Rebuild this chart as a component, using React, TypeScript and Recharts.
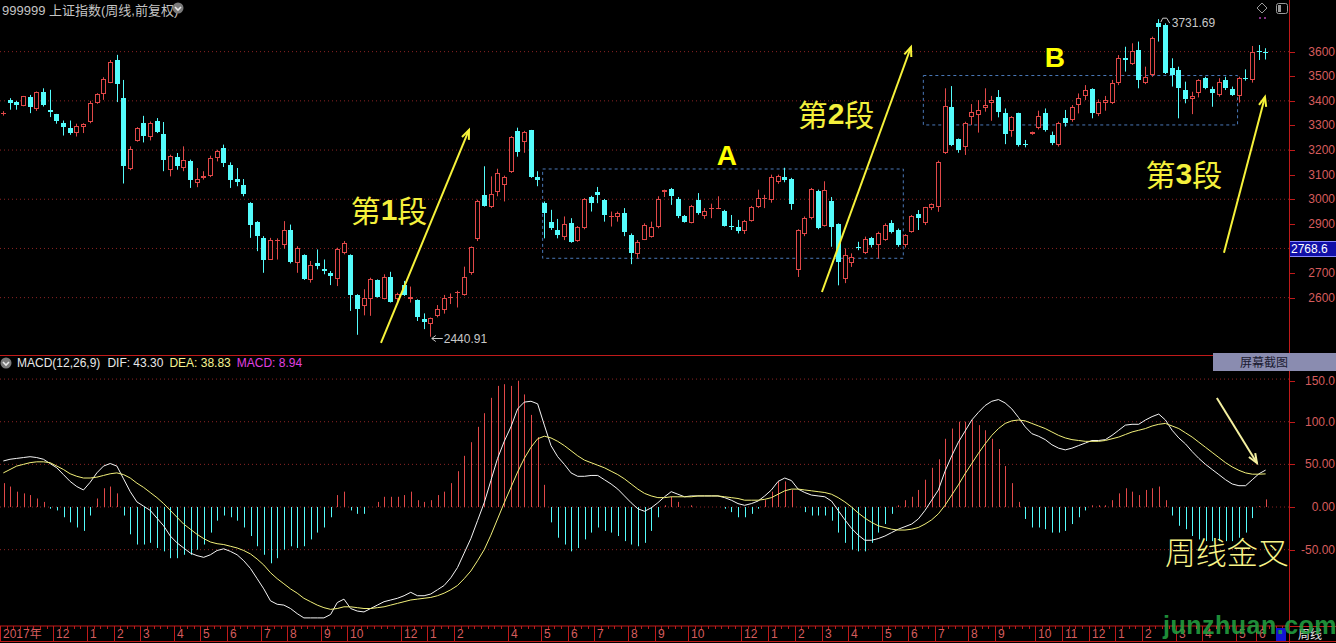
import React from "react";
import {
  Bar,
  CartesianGrid,
  ComposedChart,
  Line,
  ReferenceArea,
  ReferenceDot,
  ReferenceLine,
  XAxis,
  YAxis,
} from "recharts";

// weekly candles, 上证指数
const opens = [
  3345, 3404, 3396, 3381, 3415, 3366, 3438, 3361, 3345, 3309,
  3289, 3269, 3293, 3314, 3391, 3427, 3474, 3566, 3411, 3124,
  3235, 3309, 3255, 3320, 3265, 3118, 3172, 3127, 3157, 3066,
  3086, 3093, 3168, 3208, 3141, 3082, 3059, 2985, 2907, 2843,
  2755, 2830, 2816, 2874, 2739, 2772, 2672, 2739, 2718, 2701,
  2674, 2782, 2772, 2609, 2566, 2596, 2672, 2596, 2685, 2593,
  2650, 2596, 2589, 2512, 2493, 2525, 2550, 2598, 2618, 2611,
  2699, 2837, 3018, 2968, 3028, 3058, 3110, 3278, 3233, 3282,
  3091, 2984, 2906, 2875, 2845, 2905, 2831, 2882, 3009, 3028,
  2998, 2930, 2927, 2943, 2855, 2777, 2834, 2848, 2886, 3028,
  3042, 3003, 2932, 2905, 2995, 2932, 2960, 2962, 2954, 2891,
  2889, 2872, 2913, 2968, 3001, 2995, 3069, 3091, 3084, 2714,
  2859, 2923, 3032, 2891, 2991, 2900, 2677, 2739, 2807, 2782,
  2841, 2814, 2834, 2902, 2875, 2814, 2868, 2942, 2902, 2963,
  2969, 3189, 3376, 3243, 3214, 3333, 3342, 3372, 3390, 3414,
  3349, 3279, 3349, 3226, 3265, 3288, 3349, 3261, 3220, 3329,
  3322, 3383, 3420, 3447, 3346, 3393, 3393, 3474, 3573, 3550,
  3607, 3474, 3505, 3718, 3708, 3532, 3525, 3444, 3406, 3430,
  3492, 3447, 3424, 3485, 3447, 3420, 3494, 3485, 3602, 3598,
];
const highs = [
  3358, 3411, 3400, 3420, 3424, 3438, 3451, 3445, 3347, 3320,
  3320, 3307, 3309, 3400, 3431, 3496, 3566, 3587, 3485, 3215,
  3293, 3339, 3316, 3330, 3314, 3181, 3188, 3215, 3161, 3127,
  3114, 3177, 3201, 3222, 3150, 3127, 3082, 2988, 2911, 2850,
  2843, 2841, 2911, 2897, 2809, 2776, 2749, 2796, 2755, 2708,
  2803, 2830, 2776, 2614, 2634, 2681, 2674, 2695, 2705, 2620,
  2668, 2645, 2593, 2536, 2519, 2570, 2611, 2617, 2628, 2726,
  2808, 2998, 3134, 3093, 3124, 3096, 3257, 3291, 3278, 3282,
  3114, 2991, 2957, 2920, 2930, 2923, 2891, 3005, 3014, 3050,
  3001, 2950, 2950, 2964, 2861, 2834, 2902, 2909, 3012, 3039,
  3046, 3009, 2936, 2977, 3025, 2964, 2982, 3012, 2957, 2936,
  2916, 2916, 2973, 3039, 3018, 3100, 3100, 3128, 3087, 2878,
  2930, 3046, 3039, 3073, 3009, 2902, 2800, 2780, 2827, 2848,
  2847, 2868, 2902, 2915, 2881, 2858, 2936, 2956, 2969, 2983,
  3157, 3451, 3460, 3247, 3315, 3387, 3403, 3451, 3420, 3444,
  3369, 3338, 3352, 3241, 3275, 3360, 3369, 3275, 3315, 3363,
  3383, 3430, 3464, 3451, 3406, 3420, 3485, 3586, 3620, 3634,
  3641, 3539, 3661, 3732, 3715, 3573, 3539, 3478, 3437, 3488,
  3498, 3458, 3492, 3498, 3458, 3498, 3528, 3623, 3627, 3614,
];
const lows = [
  3340, 3364, 3364, 3378, 3350, 3359, 3377, 3334, 3307, 3259,
  3262, 3255, 3269, 3309, 3388, 3404, 3472, 3395, 3064, 3118,
  3234, 3231, 3239, 3269, 3114, 3093, 3120, 3114, 3046, 3049,
  3080, 3090, 3154, 3131, 3046, 3053, 3012, 2843, 2789, 2701,
  2753, 2755, 2799, 2739, 2701, 2672, 2661, 2715, 2695, 2651,
  2647, 2776, 2546, 2449, 2528, 2526, 2600, 2593, 2580, 2580,
  2607, 2580, 2505, 2472, 2441, 2520, 2535, 2574, 2560, 2608,
  2693, 2830, 2970, 2964, 3012, 2991, 3107, 3173, 3189, 3087,
  3053, 2841, 2875, 2841, 2834, 2823, 2827, 2878, 2950, 2984,
  2909, 2889, 2909, 2850, 2736, 2759, 2834, 2844, 2882, 3009,
  2977, 2923, 2905, 2902, 2937, 2920, 2923, 2960, 2889, 2875,
  2861, 2859, 2909, 2964, 2964, 2986, 3063, 3069, 2957, 2684,
  2850, 2918, 2878, 2889, 2807, 2650, 2659, 2725, 2793, 2777,
  2804, 2759, 2831, 2861, 2807, 2804, 2864, 2875, 2895, 2956,
  2949, 3184, 3216, 3189, 3180, 3302, 3271, 3356, 3319, 3333,
  3224, 3254, 3214, 3211, 3262, 3284, 3275, 3220, 3214, 3295,
  3315, 3349, 3403, 3329, 3338, 3360, 3387, 3464, 3519, 3546,
  3451, 3468, 3498, 3641, 3509, 3458, 3329, 3390, 3346, 3414,
  3447, 3376, 3417, 3444, 3420, 3393, 3482, 3474, 3566, 3568,
];
const closes = [
  3352, 3393, 3384, 3418, 3373, 3434, 3384, 3355, 3320, 3293,
  3269, 3296, 3307, 3393, 3427, 3488, 3558, 3468, 3134, 3204,
  3289, 3259, 3309, 3272, 3158, 3174, 3136, 3161, 3077, 3082,
  3093, 3168, 3195, 3147, 3080, 3069, 3023, 2897, 2850, 2755,
  2836, 2836, 2877, 2745, 2803, 2674, 2731, 2728, 2708, 2688,
  2799, 2823, 2609, 2555, 2600, 2677, 2604, 2685, 2582, 2614,
  2609, 2603, 2523, 2499, 2516, 2554, 2598, 2604, 2624, 2683,
  2805, 2991, 2973, 3022, 3107, 3091, 3253, 3192, 3275, 3089,
  3080, 2943, 2882, 2855, 2900, 2827, 2886, 3002, 2984, 3018,
  2936, 2933, 2943, 2868, 2780, 2827, 2896, 2889, 3001, 3036,
  3012, 2932, 2909, 2973, 2943, 2954, 2964, 2964, 2891, 2886,
  2872, 2913, 2968, 3005, 3005, 3091, 3096, 3080, 2982, 2875,
  2923, 3042, 2882, 3036, 2889, 2745, 2773, 2766, 2805, 2837,
  2814, 2861, 2895, 2868, 2814, 2854, 2932, 2922, 2967, 2979,
  3153, 3380, 3220, 3200, 3308, 3353, 3363, 3383, 3403, 3356,
  3265, 3336, 3220, 3224, 3272, 3338, 3281, 3227, 3311, 3311,
  3376, 3410, 3444, 3349, 3397, 3403, 3471, 3573, 3566, 3604,
  3485, 3498, 3654, 3699, 3512, 3505, 3451, 3406, 3420, 3485,
  3451, 3430, 3478, 3451, 3424, 3492, 3491, 3600, 3598, 3594,
];

// MACD(12,26,9): DIF (white) and DEA (yellow)
const difs = [
  54, 56, 57, 58, 59, 58, 56, 51, 46, 38,
  30, 24, 20, 29, 40, 48, 51, 48, 33, 18,
  6, 1, -4, -13, -22, -34, -42, -48, -54, -57,
  -59, -56, -51, -49, -52, -56, -63, -72, -84, -96,
  -110, -114, -115, -119, -125, -130, -130, -130, -130, -126,
  -112, -108, -119, -122, -123, -119, -115, -111, -109, -107,
  -104, -100, -104, -104, -102, -97, -92, -83, -71, -54,
  -37, -16, 5, 31, 57, 77, 94, 115, 123, 124,
  121, 96, 72, 59, 50, 40, 36, 36, 37, 37,
  32, 27, 21, 13, 5, -2, -5, -1, 5, 12,
  18, 15, 12, 13, 13, 13, 13, 13, 11, 8,
  4, 2, 4, 7, 13, 20, 30, 34, 31, 21,
  17, 14, 13, 12, 7, -4, -15, -25, -33, -39,
  -39, -37, -34, -30, -26, -23, -20, -14, -4, 8,
  20, 42, 60, 76, 89, 102, 111, 119, 124, 126,
  122, 115, 105, 94, 86, 83, 79, 73, 69, 67,
  69, 72, 75, 78, 78, 79, 84, 90, 96, 97,
  97, 102, 106, 109, 102, 90, 81, 74, 65, 57,
  50, 44, 38, 32, 27, 25, 25, 32, 39, 43.3,
];
const deas = [
  40, 44, 48, 50, 52, 53, 53, 52, 48, 44,
  39, 36, 34, 34, 35, 37, 39, 40, 38, 34,
  28, 23, 17, 11, 4, -4, -12, -20, -26, -32,
  -37, -41, -43, -44, -46, -48, -51, -55, -61, -68,
  -77, -84, -90, -96, -101, -107, -111, -115, -118, -120,
  -119, -117, -117, -118, -119, -119, -118, -117, -115, -113,
  -111, -109, -108, -107, -106, -104, -101, -97, -92, -84,
  -75, -63, -50, -33, -14, 5, 23, 41, 57, 70,
  80, 83, 81, 77, 72, 66, 60, 55, 52, 49,
  46, 42, 38, 33, 27, 21, 16, 13, 11, 11,
  12, 12, 12, 12, 13, 13, 13, 13, 12, 11,
  10, 8, 8, 8, 9, 11, 15, 19, 21, 21,
  20, 19, 18, 17, 15, 11, 6, 0, -7, -13,
  -18, -22, -24, -26, -27, -27, -26, -24, -20, -15,
  -8, 2, 14, 26, 39, 51, 63, 74, 84, 92,
  98, 101, 102, 101, 98, 95, 92, 88, 84, 81,
  79, 78, 77, 77, 77, 78, 80, 82, 85, 88,
  90, 92, 95, 97, 98, 95, 92, 87, 82, 76,
  70, 64, 58, 52, 47, 43, 40, 38.5, 38.5, 38.83,
];

const timeTicks: [number, string][] = [
  [0, "2017年"], [8, "12"], [13, "1"], [17, "2"], [21, "3"], [26, "4"], [30, "5"],
  [34, "6"], [39, "7"], [43, "8"], [48, "9"], [52, "10"], [60, "12"], [64, "1"],
  [68, "2"], [76, "4"], [81, "5"], [85, "6"], [89, "7"], [94, "8"], [98, "9"],
  [103, "10"], [111, "12"], [115, "1"], [119, "2"], [123, "3"], [127, "4"],
  [132, "5"], [136, "6"], [140, "7"], [145, "8"], [149, "9"], [155, "10"],
  [159, "11"], [163, "12"], [167, "1"], [171, "2"], [176, "3"], [180, "4"],
  [185, "5"], [188, "6"],
];
const priceTicks = [2600, 2700, 2800, 2900, 3000, 3100, 3200, 3300, 3400, 3500, 3600];
const priceGrid = [2600, 2800, 3000, 3200, 3400, 3600];
const macdTicks = [-50, 0, 50, 100, 150];
const macdTickLabels = ["-50.00", "0.00", "50.00", "100.0", "150.0"];

// annotations, in week index / value units
const boxes = [
  { x1: 80.75, x2: 134.75, y1: 2760, y2: 3123 },
  { x1: 137.75, x2: 184.8, y1: 3302, y2: 3503 },
];
const arrows = [
  { from: [56.54, 2416], to: [69.72, 3282] },
  { from: [122.57, 2623], to: [135.9, 3619] },
  { from: [182.76, 2782], to: [188.9, 3416] },
];
const stageLabels = [
  { i: 57.74, v: 2961, num: "1" },
  { i: 124.67, v: 3351, num: "2" },
  { i: 176.77, v: 3108, num: "3" },
];
const letterLabels = [
  { i: 108.35, v: 3177, text: "A" },
  { i: 157.46, v: 3577, text: "B" },
];

const SLOTS = 193;
const RED = "#e04848";
const CYAN = "#54fcfc";
const GRID = "#8c2424";
const AXIS = "#c01a1a";
const AXIS_TEXT = "#d65c5c";
const YELLOW = "#f4f03c";

const rows = Array.from({ length: SLOTS }, (_, i) =>
  i < opens.length
    ? {
        i,
        range: [lows[i], highs[i]],
        open: opens[i],
        high: highs[i],
        low: lows[i],
        close: closes[i],
        dif: difs[i],
        dea: deas[i],
        hist: 2 * (difs[i] - deas[i]),
      }
    : { i }
);

const tickLabel = new Map(timeTicks);

function Candle(props: any) {
  const { x, y, width, height, payload } = props;
  if (!payload || payload.open == null) return null;
  const { open, close, high, low } = payload;
  const top0 = Math.min(y, y + height);
  const k = Math.abs(height) / (high - low || 1);
  const yOf = (v: number) => top0 + (high - v) * k;
  const left = Math.round(x + width / 2 - 2.5);
  const cx = left + 2.5;
  const up = close >= open;
  const color = up ? RED : CYAN;
  const bTop = Math.round(yOf(Math.max(open, close)));
  const bBot = Math.round(yOf(Math.min(open, close)));
  const flat = bBot - bTop < 2;
  return (
    <g>
      <line x1={cx} x2={cx} y1={yOf(high)} y2={yOf(low)} stroke={color} />
      {flat ? (
        <line x1={left} x2={left + 5} y1={bTop + 0.5} y2={bTop + 0.5} stroke={color} />
      ) : up ? (
        <rect x={left + 0.5} y={bTop + 0.5} width={4} height={bBot - bTop - 1} fill="#000" stroke={color} />
      ) : (
        <rect x={left} y={bTop} width={5} height={bBot - bTop} fill={color} />
      )}
    </g>
  );
}

function HistBar(props: any) {
  const { x, y, width, height, payload } = props;
  if (!payload || payload.hist == null) return null;
  const cx = Math.round(x + width / 2) + 0.5;
  return <line x1={cx} x2={cx} y1={y} y2={y + height} stroke={payload.hist >= 0 ? RED : CYAN} />;
}

function PriceTick(p: any) {
  const yy = Math.round(p.y) + 0.5;
  return (
    <g>
      <line x1={1289} x2={1295} y1={yy} y2={yy} stroke={AXIS} />
      <text x={1335} y={p.y} textAnchor="end" dominantBaseline="central" fill={AXIS_TEXT} fontSize={12}>
        {p.payload.value}
      </text>
    </g>
  );
}

function MacdTick(p: any) {
  const yy = Math.round(p.y) + 0.5;
  const label = macdTickLabels[macdTicks.indexOf(p.payload.value)];
  return (
    <g>
      <line x1={1289} x2={1295} y1={yy} y2={yy} stroke={AXIS} />
      <text x={1335} y={p.y} textAnchor="end" dominantBaseline="central" fill={AXIS_TEXT} fontSize={12}>
        {label}
      </text>
    </g>
  );
}

function TimeTick(p: any) {
  const i = Number(p.payload.value);
  const left = Math.round(p.x - 3.3) + 0.5;
  const label = tickLabel.get(i);
  if (!label) {
    return <line x1={left} x2={left} y1={p.y} y2={p.y + 3} stroke={AXIS} />;
  }
  return (
    <g>
      <line x1={left} x2={left} y1={p.y} y2={p.y + 15} stroke={AXIS} />
      <text x={left + 2.5} y={p.y + 8} dominantBaseline="central" fill={AXIS_TEXT} fontSize={12}>
        {label}
      </text>
    </g>
  );
}

const arrowShape = (color: string, w: number) => (p: any) => {
  const { x1, y1, x2, y2 } = p;
  const a = Math.atan2(y2 - y1, x2 - x1);
  const L = 10;
  const s = 0.38;
  const ax = x2 - L * Math.cos(a - s);
  const ay = y2 - L * Math.sin(a - s);
  const bx = x2 - L * Math.cos(a + s);
  const by = y2 - L * Math.sin(a + s);
  return (
    <g>
      <line x1={x1} y1={y1} x2={x2} y2={y2} stroke={color} strokeWidth={w} />
      <polyline points={`${ax},${ay} ${x2},${y2} ${bx},${by}`} fill="none" stroke={color} strokeWidth={w} />
    </g>
  );
};

const center = (p: any) => ({ cx: p.viewBox.x + p.viewBox.width / 2, cy: p.viewBox.y + p.viewBox.height / 2 });

const stageContent = (num: string) => (p: any) => {
  const { cx, cy } = center(p);
  return (
    <text x={cx} y={cy} textAnchor="middle" dominantBaseline="central" fill={YELLOW} fontSize={30} fontFamily="'Noto Sans CJK SC', sans-serif">
      第<tspan fontFamily="'Liberation Sans', Arial" fontWeight="bold">{num}</tspan>段
    </text>
  );
};

const letterContent = (text: string) => (p: any) => {
  const { cx, cy } = center(p);
  return (
    <text x={cx} y={cy} textAnchor="middle" dominantBaseline="central" fill="#ffff00" fontSize={28} fontWeight="bold" fontFamily="'Liberation Sans', Arial">
      {text}
    </text>
  );
};

const lowContent = (p: any) => {
  const { cx, cy } = center(p);
  const yy = Math.round(cy + 1) + 0.5;
  return (
    <g stroke="#c8c8c8" fill="none">
      <line x1={cx + 1} x2={cx + 12} y1={yy} y2={yy} />
      <polyline points={`${cx + 5},${yy - 3} ${cx + 1},${yy} ${cx + 5},${yy + 3}`} />
      <text x={cx + 13} y={yy} dominantBaseline="central" fill="#c8c8c8" stroke="none" fontSize={12}>
        2440.91
      </text>
    </g>
  );
};

const highContent = (p: any) => {
  const { cx, cy } = center(p);
  return (
    <g stroke="#c8c8c8" fill="none">
      <path d={`M${cx + 2},${cy + 3} L${cx + 4},${cy - 1} L${cx + 8},${cy - 1} L${cx + 11},${cy + 4}`} />
      <text x={cx + 13} y={cy + 4} dominantBaseline="central" fill="#c8c8c8" stroke="none" fontSize={12}>
        3731.69
      </text>
    </g>
  );
};

const goldenContent = (p: any) => {
  const { cx, cy } = center(p);
  return (
    <text x={cx} y={cy} textAnchor="middle" dominantBaseline="central" fill="#f8f488" fontSize={31} fontWeight={300} fontFamily="'Noto Sans CJK SC', sans-serif">
      周线金叉
    </text>
  );
};

function Chevron({ x, y }: { x: number; y: number }) {
  return (
    <svg style={{ position: "absolute", left: x, top: y }} width={12} height={12}>
      <circle cx={6} cy={6} r={5.5} fill="#7a7a7a" />
      <polyline points="3,5 6,8 9,5" fill="none" stroke="#e8e8e8" strokeWidth={1.6} />
    </svg>
  );
}

const POS = "pos";

export default function App() {
  return (
    <div
      style={{
        position: "fixed",
        left: 0,
        top: 0,
        width: 1336,
        height: 643,
        background: "#000",
        overflow: "hidden",
        fontFamily: "'Liberation Sans', Arial, 'Noto Sans CJK SC', sans-serif",
      }}
    >
      {/* price panel */}
      <div style={{ position: "absolute", left: 0, top: 0 }}>
        <ComposedChart width={1336} height={352} data={rows} margin={{ top: 0, right: 0, bottom: 0, left: 0 }}>
          <CartesianGrid horizontalValues={priceGrid} vertical={false} stroke={GRID} strokeDasharray="1 3" />
          <XAxis dataKey="i" type="category" hide />
          <XAxis xAxisId={POS} dataKey="i" type="number" domain={[-0.5, SLOTS - 0.5]} allowDataOverflow hide />
          <YAxis
            orientation="right"
            width={47}
            type="number"
            domain={[2379, 3810]}
            allowDataOverflow
            ticks={priceTicks}
            tick={PriceTick}
            axisLine={false}
            tickLine={false}
          />
          {boxes.map((b, k) => (
            <ReferenceArea
              key={k}
              xAxisId={POS}
              x1={b.x1}
              x2={b.x2}
              y1={b.y1}
              y2={b.y2}
              fill="none"
              fillOpacity={0}
              stroke="#4a78b8"
              strokeDasharray="3 3"
              ifOverflow="visible"
            />
          ))}
          <Bar dataKey="range" barSize={5} shape={Candle} isAnimationActive={false} />
          {arrows.map((a, k) => (
            <ReferenceLine
              key={k}
              xAxisId={POS}
              segment={[
                { x: a.from[0], y: a.from[1] },
                { x: a.to[0], y: a.to[1] },
              ]}
              ifOverflow="visible"
              shape={arrowShape("#f6f23a", 2)}
            />
          ))}
          {stageLabels.map((s, k) => (
            <ReferenceDot key={k} xAxisId={POS} x={s.i} y={s.v} r={1} fill="none" stroke="none" ifOverflow="visible" label={{ content: stageContent(s.num) }} />
          ))}
          {letterLabels.map((s, k) => (
            <ReferenceDot key={k} xAxisId={POS} x={s.i} y={s.v} r={1} fill="none" stroke="none" ifOverflow="visible" label={{ content: letterContent(s.text) }} />
          ))}
          <ReferenceDot xAxisId={POS} x={64} y={2441} r={1} fill="none" stroke="none" ifOverflow="visible" label={{ content: lowContent }} />
          <ReferenceDot xAxisId={POS} x={173} y={3732} r={1} fill="none" stroke="none" ifOverflow="visible" label={{ content: highContent }} />
        </ComposedChart>
      </div>

      {/* MACD panel */}
      <div style={{ position: "absolute", left: 0, top: 372 }}>
        <ComposedChart width={1336} height={271} data={rows} margin={{ top: 0, right: 0, bottom: 0, left: 0 }}>
          <CartesianGrid horizontalValues={macdTicks} vertical={false} stroke={GRID} strokeDasharray="1 3" />
          <XAxis
            dataKey="i"
            type="category"
            height={17}
            interval={0}
            tickSize={0}
            tickMargin={0}
            tickLine={false}
            axisLine={{ stroke: AXIS }}
            tick={TimeTick}
          />
          <XAxis xAxisId={POS} dataKey="i" type="number" domain={[-0.5, SLOTS - 0.5]} allowDataOverflow hide />
          <YAxis
            orientation="right"
            width={47}
            type="number"
            domain={[-139.5, 158.3]}
            allowDataOverflow
            ticks={macdTicks}
            tick={MacdTick}
            axisLine={false}
            tickLine={false}
          />
          <Bar dataKey="hist" barSize={1} shape={HistBar} isAnimationActive={false} />
          <Line dataKey="dif" type="linear" stroke="#f4f4f4" strokeWidth={1} dot={false} isAnimationActive={false} />
          <Line dataKey="dea" type="linear" stroke="#f2f07a" strokeWidth={1} dot={false} isAnimationActive={false} />
          <ReferenceLine
            xAxisId={POS}
            segment={[
              { x: 181.7, y: 127.8 },
              { x: 187.7, y: 51.6 },
            ]}
            ifOverflow="visible"
            shape={arrowShape("#f4f0a0", 2)}
          />
          <ReferenceDot xAxisId={POS} x={183.2} y={-51.4} r={1} fill="none" stroke="none" ifOverflow="visible" label={{ content: goldenContent }} />
        </ComposedChart>
      </div>

      {/* frame lines */}
      <div style={{ position: "absolute", left: 1289, top: 0, width: 1, height: 643, background: AXIS }} />
      <div style={{ position: "absolute", left: 0, top: 355, width: 1213, height: 1, background: AXIS }} />
      <div style={{ position: "absolute", left: 1289, top: 626, width: 47, height: 1, background: AXIS }} />
      <div style={{ position: "absolute", left: 0, top: 641, width: 1336, height: 1, background: AXIS }} />

      {/* header */}
      <div style={{ position: "absolute", left: 2, top: 0, fontSize: 13, color: "#c4c4c4", whiteSpace: "nowrap", fontFamily: "'Liberation Sans', 'Noto Sans CJK SC', sans-serif" }}>
        999999 上证指数(周线,前复权)
      </div>
      <Chevron x={172} y={2} />
      <svg style={{ position: "absolute", left: 1252, top: 2 }} width={40} height={20}>
        <polygon points="10,1 15,6 10,11 5,6" fill="none" stroke="#9a9a9a" />
        <rect x={24.5} y={1.5} width={11} height={10} rx={2} fill="none" stroke="#9a9a9a" />
        <rect x={26} y={3} width={3} height={7} fill="#9a9a9a" />
        <circle cx={8} cy={16} r={1} fill="#b040b0" />
        <circle cx={13} cy={16} r={1} fill="#b040b0" />
      </svg>

      {/* current value tag */}
      <div
        style={{
          position: "absolute",
          left: 1290,
          top: 241,
          width: 46,
          height: 14,
          background: "#1010a8",
          borderTop: "1px solid #8888ff",
          borderBottom: "1px solid #8888ff",
          color: "#ffffff",
          fontSize: 12,
          lineHeight: "14px",
          paddingLeft: 1,
        }}
      >
        2768.6
      </div>

      {/* MACD header */}
      <Chevron x={0} y={357} />
      <div style={{ position: "absolute", left: 17, top: 356, fontSize: 12, whiteSpace: "nowrap", lineHeight: "14px" }}>
        <span style={{ color: "#e8e8e8" }}>MACD(12,26,9)</span>
        <span style={{ color: "#e8e8e8", marginLeft: 7 }}>DIF: 43.30</span>
        <span style={{ color: "#f6f290", marginLeft: 6 }}>DEA: 38.83</span>
        <span style={{ color: "#e040e0", marginLeft: 6 }}>MACD: 8.94</span>
      </div>
      <div
        style={{
          position: "absolute",
          left: 1213,
          top: 353,
          width: 123,
          height: 18,
          background: "#8a8cb0",
          color: "#1a1a30",
          fontSize: 12,
          lineHeight: "18px",
          paddingLeft: 27,
          boxSizing: "border-box",
          fontFamily: "'Noto Sans CJK SC', sans-serif",
        }}
      >
        屏幕截图
      </div>

      {/* bottom strip */}
      <div style={{ position: "absolute", left: 1276, top: 628, width: 10, height: 13, background: "#1414d0" }} />
      <div style={{ position: "absolute", left: 1298, top: 627, fontSize: 12, color: "#e8e8e8", fontFamily: "'Noto Sans CJK SC', sans-serif", lineHeight: "14px" }}>
        周线
      </div>
      <div
        style={{
          position: "absolute",
          left: 1163,
          top: 611,
          fontSize: 25,
          fontWeight: "bold",
          color: "rgba(34,160,64,0.9)",
          letterSpacing: 0.5,
          whiteSpace: "nowrap",
          fontFamily: "'Liberation Sans', Arial, sans-serif",
        }}
      >
        junzhuan.com
      </div>
    </div>
  );
}
